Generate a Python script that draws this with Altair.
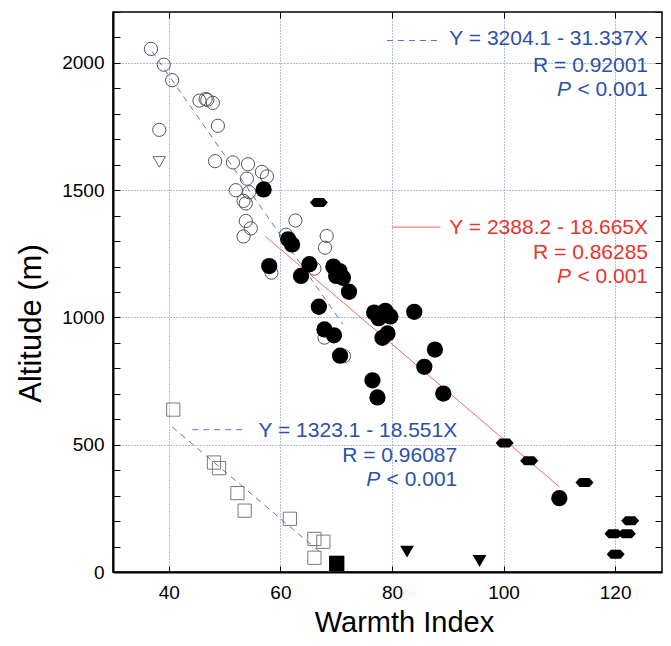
import altair as alt
import pandas as pd

FONT = "Liberation Sans"
BLUE_TXT = "#2d50a8"
RED_TXT = "#e8352c"
BLUE_LN = "#5b72cc"
RED_LN = "#f06a62"
GRID = "#5a78d6"

# ---------------- data ----------------
open_circle_x = [36.8, 39.1, 40.6, 45.5, 46.6, 46.9, 47.9, 38.3, 48.8, 48.3, 51.5, 54.2,
                 56.7, 57.6, 54.0, 52.0, 54.4, 53.4, 53.8, 53.8, 54.7, 53.4, 62.7, 61.0,
                 68.3, 68.0, 58.4, 66.1, 67.9, 71.4]
open_circle_y = [2055, 1993, 1932, 1852, 1858, 1855, 1843, 1737, 1753, 1614, 1609, 1602,
                 1572, 1554, 1545, 1500, 1492, 1458, 1448, 1379, 1350, 1318, 1381, 1325,
                 1320, 1274, 1176, 1192, 921, 848]

filled_circle_x = [57.0, 61.4, 62.1, 58.0, 65.2, 63.7, 69.5, 70.6, 70.0, 71.2, 72.3, 66.9,
                   67.9, 69.6, 70.7, 76.8, 77.6, 78.8, 79.7, 84.0, 78.3, 79.2, 87.7, 85.8,
                   76.5, 77.4, 89.2, 110.0]
filled_circle_y = [1503, 1307, 1287, 1202, 1209, 1163, 1200, 1182, 1163, 1156, 1101, 1042,
                   953, 930, 850, 1019, 997, 1026, 1004, 1022, 920, 937, 874, 806,
                   753, 686, 701, 290]

hex_x = [66.9, 100.2, 104.6, 114.5, 122.7, 119.7, 122.1, 120.1]
hex_y = [1452, 507, 437, 352, 201, 150, 150, 70]

open_square_x = [40.8, 48.1, 49.0, 52.3, 53.6, 61.7, 66.1, 67.7, 66.1]
open_square_y = [638, 430, 408, 310, 241, 209, 130, 119, 56]

filled_square_x = [70.1]
filled_square_y = [34]

filled_tri_x = [82.7, 95.7]
filled_tri_y = [80, 43]

open_tri_x = [38.3]
open_tri_y = [1611]

# regression lines (end points)
blue_reg_x = [37.0, 40.6]
blue_reg_y = [2045, 570]
blue_reg_x2 = [71.2, 67.6]
blue_reg_y2 = [973, 69]
red_reg_x = [57.3]
red_reg_y = [1319]
red_reg_x2 = [110.0]
red_reg_y2 = [335]

# annotations
ann_labels = ["Y = 3204.1 - 31.337X", "R = 0.92001", "< 0.001",
              "Y = 2388.2 - 18.665X", "R = 0.86285", "< 0.001",
              "Y = 1323.1 - 18.551X", "R = 0.96087", "< 0.001"]
ann_x = [125.9, 125.9, 125.9, 125.9, 125.9, 125.9, 91.7, 91.7, 91.7]
ann_y = [2092, 1989, 1895, 1352, 1252, 1157, 552, 454, 362]
ann_col = [BLUE_TXT] * 3 + [RED_TXT] * 3 + [BLUE_TXT] * 3
p_x = [112.1, 112.1, 77.9]
p_y = [1895, 1157, 362]
p_col = [BLUE_TXT, RED_TXT, BLUE_TXT]

seg_blue_x = [79.1, 44.2]
seg_blue_x2 = [89.0, 53.7]
seg_blue_y = [2088, 559]
seg_red_x = [80.0]
seg_red_x2 = [88.7]
seg_red_y = [1355]

x_major = [40, 60, 80, 100, 120]
y_major = [0, 500, 1000, 1500, 2000]
y_minor = list(range(0, 2201, 100))

# ---------------- chart ----------------
xs = alt.Scale(domain=[30, 128.4], nice=False, zero=False)
ys = alt.Scale(domain=[0, 2200], nice=False, zero=False)

main_x_axis = alt.Axis(orient="bottom", values=x_major, grid=True, gridColor=GRID,
                       gridDash=[1, 2], gridWidth=1,
                       ticks=False, tickSize=0, domain=True, domainColor="black", domainWidth=2,
                       labelFont=FONT, labelFontSize=19, labelColor="black", labelPadding=11,
                       title="Warmth Index", titleFont=FONT, titleFontSize=29,
                       titleFontWeight="normal", titleColor="black",
                       titleX=291, titleY=59, titleBaseline="alphabetic")
main_y_axis = alt.Axis(orient="left", values=y_major, format="d", grid=True, gridColor=GRID,
                       gridDash=[1, 2], gridWidth=1,
                       ticks=False, tickSize=0, domain=True, domainColor="black", domainWidth=2,
                       labelFont=FONT, labelFontSize=19, labelColor="black", labelPadding=9,
                       title="Altitude (m)", titleFont=FONT, titleFontSize=31,
                       titleFontWeight="normal", titleColor="black", titleAngle=270,
                       titleX=-73, titleY=311, titleBaseline="alphabetic")


def tick_axis(orient, values, size):
    return alt.Axis(orient=orient, values=values, offset=-size, tickSize=size, ticks=True,
                    tickColor="black", tickWidth=1, labels=False, domain=False, grid=False,
                    title="")


def pts(xv, yv):
    return pd.DataFrame({"x": xv, "y": yv})


def enc_none(ch):
    return ch.encode(x=alt.X("x:Q", scale=xs, axis=None), y=alt.Y("y:Q", scale=ys, axis=None))


open_circles = alt.Chart(pts(open_circle_x, open_circle_y)).mark_point(
    shape="circle", size=175, filled=False, stroke="#555555", strokeWidth=1, opacity=1
).encode(x=alt.X("x:Q", scale=xs, axis=main_x_axis), y=alt.Y("y:Q", scale=ys, axis=main_y_axis))

open_squares = alt.Chart(pts(open_square_x, open_square_y)).mark_point(
    shape="square", size=175, filled=False, stroke="#7a7a7a", strokeWidth=1, opacity=1
).encode(x=alt.X("x:Q", scale=xs, axis=tick_axis("bottom", x_major, 6)),
         y=alt.Y("y:Q", scale=ys, axis=tick_axis("left", y_minor, 7)))

open_tri = alt.Chart(pts(open_tri_x, open_tri_y)).mark_point(
    shape="triangle-down", size=150, filled=False, stroke="#666666", strokeWidth=1, opacity=1
).encode(x=alt.X("x:Q", scale=xs, axis=tick_axis("top", x_major, 6)),
         y=alt.Y("y:Q", scale=ys, axis=tick_axis("right", y_minor, 7)))

blue_reg = enc_none(alt.Chart(pd.DataFrame({"x": blue_reg_x, "y": blue_reg_y,
                                            "x2": blue_reg_x2, "y2": blue_reg_y2})).mark_rule(
    color=BLUE_LN, strokeWidth=1, strokeDash=[6, 5])).encode(x2="x2:Q", y2="y2:Q")
red_reg = enc_none(alt.Chart(pd.DataFrame({"x": red_reg_x, "y": red_reg_y,
                                           "x2": red_reg_x2, "y2": red_reg_y2})).mark_rule(
    color=RED_LN, strokeWidth=1)).encode(x2="x2:Q", y2="y2:Q")

filled_circles = enc_none(alt.Chart(pts(filled_circle_x, filled_circle_y)).mark_point(
    shape="circle", size=265, filled=True, color="black", opacity=1))

HEX = "M-1,0L-0.55,-0.5L0.55,-0.5L1,0L0.55,0.5L-0.55,0.5Z"
hexes = enc_none(alt.Chart(pts(hex_x, hex_y)).mark_point(
    shape=HEX, size=324, filled=True, color="black", opacity=1))

filled_sq = enc_none(alt.Chart(pts(filled_square_x, filled_square_y)).mark_point(
    shape="square", size=235, filled=True, color="black", opacity=1))

filled_tri = enc_none(alt.Chart(pts(filled_tri_x, filled_tri_y)).mark_point(
    shape="triangle-down", size=190, filled=True, color="black", opacity=1))

seg_blue = enc_none(alt.Chart(pd.DataFrame({"x": seg_blue_x, "x2": seg_blue_x2,
                                            "y": seg_blue_y})).mark_rule(
    color=BLUE_LN, strokeWidth=1, strokeDash=[6, 5])).encode(x2="x2:Q")
seg_red = enc_none(alt.Chart(pd.DataFrame({"x": seg_red_x, "x2": seg_red_x2,
                                           "y": seg_red_y})).mark_rule(
    color=RED_LN, strokeWidth=1)).encode(x2="x2:Q")

ann = enc_none(alt.Chart(pd.DataFrame({"x": ann_x, "y": ann_y, "t": ann_labels,
                                       "c": ann_col})).mark_text(
    align="right", baseline="middle", font=FONT, fontSize=21)).encode(
    text="t:N", color=alt.Color("c:N", scale=None))
ann_p = enc_none(alt.Chart(pd.DataFrame({"x": p_x, "y": p_y, "t": ["P"] * 3,
                                         "c": p_col})).mark_text(
    align="right", baseline="middle", font=FONT, fontSize=21, fontStyle="italic")).encode(
    text="t:N", color=alt.Color("c:N", scale=None))

chart = alt.layer(
    open_circles, open_squares, open_tri, blue_reg, red_reg,
    filled_circles, hexes, filled_sq, filled_tri, seg_blue, seg_red, ann, ann_p
).resolve_axis(x="independent", y="independent").properties(
    width=549, height=560,
    padding={"left": 105, "top": 4, "right": 1, "bottom": 64},
    autosize=alt.AutoSizeParams(type="none"),
    background="white",
).configure_view(stroke="black", strokeWidth=1.5)

chart.save("out.html", embed_options={"renderer": "svg", "actions": False})
